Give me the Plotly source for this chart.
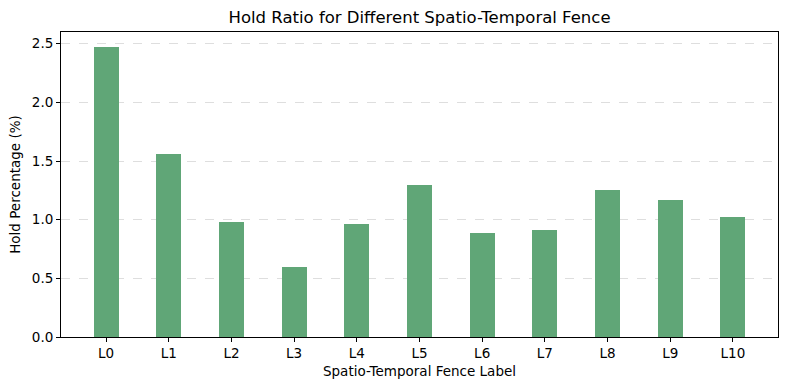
import plotly.graph_objects as go

labels = ["L0", "L1", "L2", "L3", "L4", "L5", "L6", "L7", "L8", "L9", "L10"]
hold_pct = [2.47, 1.56, 0.98, 0.60, 0.96, 1.30, 0.89, 0.91, 1.25, 1.17, 1.02]
y_ticks = [0.0, 0.5, 1.0, 1.5, 2.0, 2.5]

x_idx = list(range(len(labels)))
font_family = "DejaVu Sans"

fig = go.Figure(go.Bar(
    x=x_idx, y=hold_pct, width=0.4,
    marker=dict(color="#60a677", line=dict(width=0)),
))

fig.update_layout(
    width=790, height=390,
    margin=dict(l=61, r=12, t=32, b=53),
    paper_bgcolor="white", plot_bgcolor="white",
    showlegend=False,
    font=dict(family=font_family, size=13.5, color="black"),
    title=dict(text="Hold Ratio for Different Spatio-Temporal Fence",
               x=(61 + 778) / 2 / 790, xanchor="center", y=1 - 17 / 390, yanchor="middle",
               font=dict(size=16.5, family=font_family)),
    bargap=0,
)
fig.update_xaxes(
    range=[-0.72, len(labels) - 1 + 0.72],
    tickmode="array", tickvals=x_idx, ticktext=labels,
    showline=True, linecolor="black", linewidth=1, mirror=True,
    ticks="outside", ticklen=4, tickcolor="black",
    showgrid=False, zeroline=False,
    title=dict(text="Spatio-Temporal Fence Label", standoff=6, font=dict(size=13.5)),
)
fig.update_yaxes(
    range=[0, 2.6],
    tickmode="array", tickvals=y_ticks, ticktext=[f"{v:.1f}" for v in y_ticks],
    showline=True, linecolor="black", linewidth=1, mirror=True,
    ticks="outside", ticklen=4, tickcolor="black",
    showgrid=True, gridcolor="#dedede", griddash="dash", gridwidth=1,
    zeroline=False,
    title=dict(text="Hold Percentage (%)", standoff=8, font=dict(size=13.5)),
)

fig.write_html("out.html")
